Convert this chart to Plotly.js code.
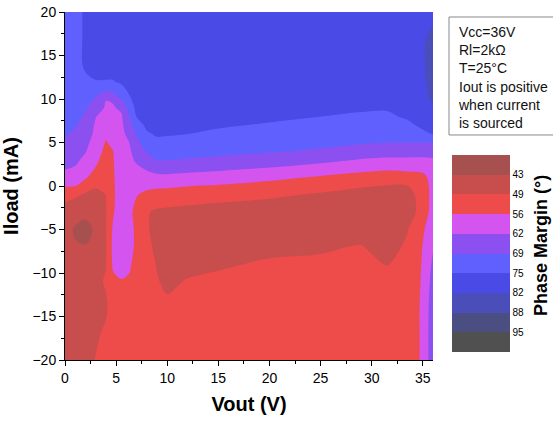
<!DOCTYPE html>
<html>
<head>
<meta charset="utf-8">
<script src="https://cdn.plot.ly/plotly-3.0.1.min.js"></script>
<style>html,body{margin:0;padding:0;background:#fff;overflow:hidden;}#chart{width:553px;height:423px;}</style>
</head>
<body>
<div id="chart"></div>
<script>
// Vout (V) grid positions
var vout = [0, 1, 2, 3, 4, 4.7, 5.5, 6.3, 7, 8, 9, 10, 12, 15, 20, 25, 29, 31.5, 33.5, 35, 36];
// Iload (mA) grid positions
var iload = [-20, -17, -14, -11, -9, -7, -5, -3, -2, -1, 0, 1, 2, 3, 4, 5, 6, 7, 8, 9, 10, 11, 12, 14, 17, 20];
// Phase margin (deg), one list per Vout value, listed along iload
var pmV0    = [46.5, 46.4, 46.3, 46.0, 45.8, 45.7, 45.5, 47.8, 49.0, 52.0, 56.2, 59.6, 62.7, 64.4, 66.2, 67.9, 69.3, 70.4, 71.5, 71.9, 72.3, 72.7, 73.0, 73.4, 74.0, 74.5];
var pmV1    = [46.5, 46.4, 46.2, 45.8, 45.5, 43.65, 42.2, 45.6, 47.7, 50.5, 56.0, 58.8, 61.8, 63.55, 65.05, 66.55, 68.05, 69.26, 70.2, 71.1, 72.0, 72.25, 72.5, 73.5, 73.5, 73.5];
var pmV2    = [47.5, 47.3, 47.0, 46.0, 45.0, 43.2, 41.7, 44.0, 46.6, 48.6, 52.7, 56.7, 58.8, 60.9, 62.75, 64.1, 65.4, 66.8, 68.1, 69.5, 71.2, 72.8, 74.3, 76.0, 76.0, 76.0];
var pmV3    = [49.7, 48.5, 47.0, 48.0, 47.0, 45.5, 43.6, 45.5, 46.5, 48.0, 50.0, 52.8, 55.6, 57.1, 58.4, 59.7, 61.0, 61.5, 62.6, 66.2, 68.2, 71.2, 75.0, 77.5, 78.0, 78.3];
var pmV4    = [51.0, 50.5, 48.6, 50.0, 49.2, 49.0, 49.0, 49.0, 49.2, 49.5, 50.5, 51.5, 52.5, 53.5, 54.5, 55.5, 56.8, 58.2, 59.6, 61.5, 62.6, 69.5, 75.0, 77.5, 78.0, 78.5];
var pmV4_7  = [52.0, 52.0, 52.5, 54.5, 56.8, 57.5, 56.8, 55.2, 54.8, 54.6, 54.8, 55.0, 55.2, 55.5, 55.8, 57.5, 58.7, 59.8, 61.0, 61.8, 63.0, 71.5, 75.0, 77.5, 78.0, 78.5];
var pmV5_5  = [51.5, 52.0, 53.0, 55.5, 58.0, 59.5, 60.0, 60.0, 60.0, 60.0, 60.0, 60.0, 60.0, 60.0, 60.0, 60.0, 60.5, 61.0, 61.5, 63.5, 69.2, 73.0, 76.2, 77.5, 78.0, 78.5];
var pmV6_3  = [51.5, 52.0, 53.0, 55.0, 56.8, 57.3, 57.3, 57.0, 57.5, 58.0, 59.0, 59.5, 60.0, 60.7, 61.5, 62.4, 64.5, 66.5, 68.9, 71.5, 74.2, 76.5, 77.5, 78.0, 78.5, 78.5];
var pmV7    = [51.5, 51.8, 52.0, 52.0, 53.5, 55.0, 55.0, 54.5, 55.2, 56.2, 57.5, 59.0, 61.2, 63.3, 65.0, 67.3, 69.3, 72.4, 75.5, 77.0, 78.0, 78.3, 78.5, 78.7, 78.8, 78.8];
var pmV8    = [52.0, 52.0, 52.0, 51.5, 51.0, 50.5, 50.0, 49.8, 51.0, 54.5, 57.3, 60.0, 63.0, 66.0, 69.3, 72.0, 74.5, 76.5, 77.5, 78.0, 78.5, 78.7, 78.8, 79.0, 79.0, 79.0];
var pmV9    = [52.0, 51.5, 51.0, 49.8, 49.2, 48.5, 48.0, 48.8, 50.5, 53.5, 57.0, 60.8, 64.7, 68.9, 71.3, 73.8, 76.0, 77.0, 77.8, 78.2, 78.5, 78.8, 79.0, 79.2, 79.2, 79.2];
var pmV10   = [52.0, 51.5, 50.5, 48.5, 48.0, 47.5, 47.3, 48.3, 50.5, 53.5, 56.7, 60.9, 64.9, 68.9, 71.2, 73.6, 75.8, 77.0, 78.0, 78.5, 79.0, 79.2, 79.5, 79.5, 79.5, 79.5];
var pmV12   = [52.5, 52.0, 51.0, 49.8, 48.0, 46.5, 46.0, 47.8, 50.0, 52.8, 56.0, 60.2, 64.4, 68.4, 70.8, 72.8, 75.3, 76.5, 77.5, 78.3, 79.0, 79.3, 79.5, 79.7, 79.7, 79.7];
var pmV15   = [52.5, 52.0, 51.0, 50.2, 49.0, 47.0, 46.0, 47.5, 49.2, 52.3, 55.3, 59.2, 63.6, 67.6, 70.3, 72.3, 74.1, 76.0, 77.5, 78.3, 79.0, 79.4, 79.7, 80.0, 80.0, 80.0];
var pmV20   = [52.5, 52.0, 51.5, 50.7, 49.9, 48.6, 46.8, 46.8, 47.9, 50.8, 53.7, 57.6, 61.9, 65.9, 69.4, 71.2, 73.0, 74.7, 76.5, 77.5, 78.5, 79.0, 79.3, 79.8, 80.0, 80.0];
var pmV25   = [52.5, 52.0, 51.5, 50.8, 50.1, 49.0, 46.5, 46.5, 47.5, 48.5, 52.5, 55.2, 59.6, 64.0, 68.1, 70.2, 71.8, 73.5, 75.3, 76.5, 77.5, 78.3, 79.0, 79.8, 80.0, 80.0];
var pmV29   = [52.5, 52.0, 51.5, 51.0, 50.4, 49.7, 47.5, 46.5, 46.8, 47.5, 49.9, 53.6, 57.6, 61.9, 66.0, 69.4, 71.0, 72.7, 74.4, 76.1, 77.3, 78.2, 79.0, 80.0, 80.2, 80.2];
var pmV31_5 = [52.5, 52.0, 51.5, 50.5, 49.3, 47.5, 46.5, 46.5, 46.8, 47.5, 49.2, 52.7, 56.8, 61.2, 65.4, 68.9, 70.5, 72.2, 74.0, 76.0, 77.3, 78.3, 79.0, 80.0, 80.3, 80.3];
var pmV33_5 = [52.5, 52.5, 52.5, 52.0, 51.2, 50.3, 49.2, 47.5, 47.8, 48.3, 49.3, 53.3, 57.2, 61.3, 65.0, 68.9, 71.3, 73.6, 76.3, 78.0, 79.0, 79.7, 80.0, 80.5, 80.5, 80.0];
var pmV35   = [56.8, 56.8, 56.8, 56.6, 56.4, 56.1, 55.0, 51.0, 50.8, 50.8, 52.2, 54.5, 57.4, 61.2, 65.0, 68.9, 73.5, 77.0, 78.5, 79.5, 80.0, 80.5, 80.8, 81.0, 81.0, 80.5];
var pmV36   = [67.0, 67.0, 66.5, 65.0, 63.5, 61.8, 60.0, 59.5, 59.2, 59.0, 58.5, 58.0, 59.0, 61.5, 65.5, 68.9, 75.7, 78.0, 80.0, 81.2, 82.5, 83.0, 83.5, 84.0, 83.0, 80.0];

// contour levels and colour-bar labels
var levelValues = [43, 49.45, 55.9, 62.35, 68.8, 75.25, 81.7, 88.15, 94.6];
var levelLabels = ['43', '49', '56', '62', '69', '75', '82', '88', '95'];
// band colours from lowest phase margin to highest
var bandColors = ['#A65050', '#C84E4E', '#EE4B4B', '#D454F0', '#8C50F0', '#6060FF', '#4A4AE6', '#4B4DB8', '#4B4E80', '#505050'];
var noteLines = ['Vcc=36V', 'Rl=2kΩ', 'T=25°C', 'Iout is positive', 'when current', 'is sourced'];

var columns = [pmV0, pmV1, pmV2, pmV3, pmV4, pmV4_7, pmV5_5, pmV6_3, pmV7, pmV8, pmV9, pmV10, pmV12, pmV15, pmV20, pmV25, pmV29, pmV31_5, pmV33_5, pmV35, pmV36];
// the colour bar of the reference runs from low (top) to high (bottom):
// plot the negated margin so Plotly's upward colour bar reads that way
var zNeg = iload.map(function (_, r) { return columns.map(function (col) { return -col[r]; }); });
var negLevels = levelValues.map(function (v) { return -v; });
var step = levelValues[1] - levelValues[0];
var colorsNeg = bandColors.slice().reverse();
var colorscale = colorsNeg.map(function (c, k) { return [k / (colorsNeg.length - 1), c]; });

var FONT = 'Liberation Sans, Arial, sans-serif';

var trace = {
  type: 'contour',
  x: vout,
  y: iload,
  z: zNeg,
  autocontour: false,
  contours: {start: negLevels[negLevels.length - 1], end: negLevels[0], size: step, coloring: 'fill', showlines: false},
  line: {width: 0, smoothing: 1},
  colorscale: colorscale,
  zauto: false,
  zmin: negLevels[negLevels.length - 1] - step,
  zmax: negLevels[0] + step,
  hoverinfo: 'skip',
  colorbar: {
    x: 1.0516, xanchor: 'left', xpad: 0,
    y: 0.306, yanchor: 'middle', ypad: 0,
    len: 197, lenmode: 'pixels',
    thickness: 58, thicknessmode: 'pixels',
    outlinewidth: 0,
    tickmode: 'array', tickvals: negLevels, ticktext: levelLabels,
    ticks: '', ticklen: 0,
    tickfont: {family: FONT, size: 10, color: '#000'},
    title: {text: ''}
  }
};

var layout = {
  width: 553, height: 423,
  margin: {l: 65, r: 120, t: 12, b: 63, pad: 0},
  paper_bgcolor: '#fff', plot_bgcolor: '#fff',
  font: {family: FONT, color: '#000'},
  showlegend: false,
  xaxis: {
    range: [0, 36], tickmode: 'linear', tick0: 0, dtick: 5,
    ticks: 'outside', ticklen: 5, tickwidth: 1, tickcolor: '#000',
    minor: {dtick: 2.5, ticks: 'outside', ticklen: 3, tickcolor: '#000', tick0: 0},
    showline: true, linecolor: '#000', linewidth: 1, mirror: false,
    showgrid: false, zeroline: false,
    tickfont: {family: FONT, size: 14, color: '#000'},
    title: {text: '<b>Vout (V)</b>', font: {family: FONT, size: 20, color: '#000'}, standoff: 12}
  },
  yaxis: {
    range: [-20, 20], tickmode: 'linear', tick0: 0, dtick: 5,
    ticks: 'outside', ticklen: 5, tickwidth: 1, tickcolor: '#000',
    minor: {dtick: 2.5, ticks: 'outside', ticklen: 3, tickcolor: '#000', tick0: 0},
    showline: true, linecolor: '#000', linewidth: 1, mirror: false,
    showgrid: false, zeroline: false,
    tickfont: {family: FONT, size: 14, color: '#000'},
    title: {text: '<b>Iload (mA)</b>', font: {family: FONT, size: 20, color: '#000'}, standoff: 8}
  },
  shapes: [{
    type: 'rect', xref: 'paper', yref: 'paper',
    x0: 1.0435, x1: 1.36, y0: 0.6466, y1: 0.9856,
    line: {color: '#888', width: 1}, fillcolor: 'rgba(0,0,0,0)'
  }],
  annotations: [{
    xref: 'paper', yref: 'paper',
    x: 1.0652, xanchor: 'left', y: 0.968, yanchor: 'top',
    text: noteLines.join('<br>'),
    align: 'left', showarrow: false,
    font: {family: FONT, size: 14, color: '#111'},
    borderpad: 0
  }, {
    xref: 'paper', yref: 'paper',
    x: 1.2935, xanchor: 'center', y: 0.3276, yanchor: 'middle',
    text: '<b>Phase Margin (°)</b>', textangle: -90,
    showarrow: false, borderpad: 0,
    font: {family: FONT, size: 18, color: '#000'}
  }]
};

Plotly.newPlot('chart', [trace], layout, {staticPlot: true, displayModeBar: false});
</script>
</body>
</html>
